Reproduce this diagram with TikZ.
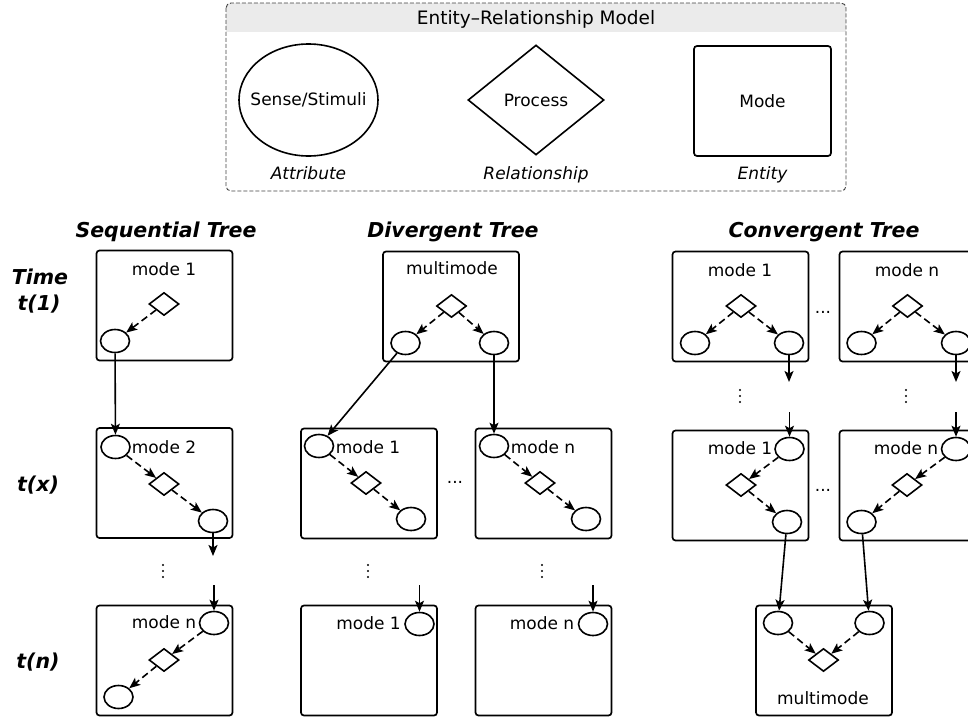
\documentclass[tikz,border=0pt]{standalone}
\usepackage{fontspec}
\setmainfont{DejaVu Sans}[ItalicFont={DejaVu Sans Oblique},BoldFont={DejaVu Sans Bold},BoldItalicFont={DejaVu Sans Bold Oblique}]
\usetikzlibrary{shapes.geometric,arrows.meta}

\begin{document}
\begin{tikzpicture}[x=1pt,y=-1pt,
  every node/.style={font=\fontsize{17}{20}\selectfont},
  modebox/.style={draw, rounded corners=3pt, line width=1.7pt, minimum width=136pt, minimum height=110pt, inner sep=0pt},
  attr/.style={draw, fill=white, ellipse, line width=1.6pt, minimum width=29pt, minimum height=23pt, inner sep=0pt},
  rel/.style={draw, fill=white, diamond, line width=1.6pt, minimum width=30pt, minimum height=23pt, inner sep=0pt},
  lbl/.style={inner sep=0pt},
  capt/.style={inner sep=0pt, anchor=base, font=\fontsize{17}{20}\selectfont\itshape},
  ttl/.style={inner sep=0pt, anchor=base, font=\fontsize{20.5}{24}\selectfont\bfseries\itshape},
  flow/.style={line width=1.6pt, -{Stealth[length=11pt 0,width=9pt 0,inset=2.5pt 0]}},
  dflow/.style={flow, dash pattern=on 7pt off 4pt},
  more/.style={inner sep=0pt, anchor=base}
]
\useasboundingbox (0,0) rectangle (968,717);
\clip (0,0) rectangle (968,717);

% ---------- legend ----------
\begin{scope}
  \clip[rounded corners=5pt] (226,3) rectangle (846,191);
  \fill[black!8] (226,3) rectangle (846,32);
\end{scope}
\draw[black!75, line width=0.9pt, dash pattern=on 4pt off 2pt, rounded corners=5pt] (226,3) rectangle (846,191);
\node[more, font=\fontsize{18.5}{22}\selectfont] (erm) at (536,25) {Entity–Relationship Model};
\node[draw, ellipse, line width=1.6pt, minimum width=139pt, minimum height=112pt, inner xsep=-11pt, inner ysep=0pt] (attrShape) at (308.5,100) {Sense/Stimuli};
\node[draw, diamond, line width=1.6pt, minimum width=136pt, minimum height=110pt, inner sep=0pt] (relShape) at (536,100) {Process};
\node[modebox, minimum width=137pt] (entShape) at (762.5,101) {Mode};
\node[capt] (attrCap) at (308.5,179) {Attribute};
\node[capt] (relCap) at (536,179) {Relationship};
\node[capt] (entCap) at (762.5,179) {Entity};

% ---------- titles and time labels ----------
\node[ttl] (tSeq) at (166,237.5) {Sequential Tree};
\node[ttl] (tDiv) at (453,237.5) {Divergent Tree};
\node[ttl] (tCon) at (824,237.5) {Convergent Tree};
\node[ttl] (time) at (40,284.5) {Time};
\node[ttl] (t1) at (39,310) {t(1)};
\node[ttl] (tx) at (38,491) {t(x)};
\node[ttl] (tn) at (38,668.5) {t(n)};

% ---------- sequential tree ----------
\node[modebox] (s1) at (164.5,305.5) {};
\node[lbl] (s1t) at (164,269) {mode 1};
\node[rel] (s1r) at (164,304) {};
\node[attr] (s1a) at (115,341) {};
\draw[dflow] (s1r) -- (s1a);

\node[modebox] (s2) at (164.5,483) {};
\node[attr] (s2a) at (115.5,447) {};
\node[lbl] (s2t) at (164,447) {mode 2};
\node[rel] (s2r) at (164,484) {};
\node[attr] (s2b) at (213,521) {};
\draw[dflow] (s2a) -- (s2r);
\draw[dflow] (s2r) -- (s2b);
\draw[flow] (s1a) -- (s2a);
\coordinate (s2out) at (213,556);
\draw[flow] (s2b) -- (s2out);

\node[modebox] (s3) at (164.5,660.5) {};
\node[lbl] (s3t) at (164,622) {mode n};
\node[attr] (s3a) at (214,623) {};
\node[rel] (s3r) at (164,660) {};
\node[attr] (s3b) at (118.5,697) {};
\coordinate (s3in) at (214,585);
\draw[flow] (s3in) -- (s3a);
\draw[dflow] (s3a) -- (s3r);
\draw[dflow] (s3r) -- (s3b);

% ---------- divergent tree ----------
\node[modebox] (d1) at (451,306.5) {};
\node[lbl] (d1t) at (452,268) {multimode};
\node[rel] (d1r) at (451.5,306) {};
\node[attr] (d1a) at (405.5,343) {};
\node[attr] (d1b) at (494,343) {};
\draw[dflow] (d1r) -- (d1a);
\draw[dflow] (d1r) -- (d1b);

\node[modebox] (d2a) at (369,483.5) {};
\node[attr] (d2aa) at (319,446) {};
\node[lbl] (d2at) at (368,447) {mode 1};
\node[rel] (d2ar) at (366,483) {};
\node[attr] (d2ab) at (411,519) {};
\draw[dflow] (d2aa) -- (d2ar);
\draw[dflow] (d2ar) -- (d2ab);

\node[modebox] (d2b) at (543.5,483.5) {};
\node[attr] (d2ba) at (494,446) {};
\node[lbl] (d2bt) at (543,447) {mode n};
\node[rel] (d2br) at (540,483) {};
\node[attr] (d2bb) at (586,519) {};
\draw[dflow] (d2ba) -- (d2br);
\draw[dflow] (d2br) -- (d2bb);
\node[more] (dmore) at (455,483.5) {...};

\draw[flow] (d1a) -- (d2aa);
\draw[flow] (d1b) -- (d2ba);

\node[modebox] (d3a) at (369,660.5) {};
\node[lbl] (d3at) at (368.5,623) {mode 1};
\node[attr] (d3aa) at (419.5,624) {};
\node[modebox] (d3b) at (543.5,660.5) {};
\node[lbl] (d3bt) at (542,623) {mode n};
\node[attr] (d3ba) at (593,624) {};
\coordinate (d3ain) at (419.5,585);
\coordinate (d3bin) at (593,585);
\draw[flow] (d3ain) -- (d3aa);
\draw[flow] (d3bin) -- (d3ba);

% ---------- convergent tree ----------
\node[modebox] (c1a) at (740.5,306.5) {};
\node[lbl] (c1at) at (740,270) {mode 1};
\node[rel] (c1ar) at (741,306) {};
\node[attr] (c1aa) at (695,343) {};
\node[attr] (c1ab) at (789,343) {};
\draw[dflow] (c1ar) -- (c1aa);
\draw[dflow] (c1ar) -- (c1ab);
\coordinate (c1aout) at (789,382);
\draw[flow] (c1ab) -- (c1aout);

\node[modebox] (c1b) at (907.5,306.5) {};
\node[lbl] (c1bt) at (907,270) {mode n};
\node[rel] (c1br) at (907.5,306) {};
\node[attr] (c1ba) at (861.5,343) {};
\node[attr] (c1bb) at (956,343) {};
\draw[dflow] (c1br) -- (c1ba);
\draw[dflow] (c1br) -- (c1bb);
\coordinate (c1bout) at (956,382);
\draw[flow] (c1bb) -- (c1bout);
\node[more] (cmore1) at (823,313.5) {...};

\node[modebox] (c2a) at (740.5,485.5) {};
\node[lbl] (c2at) at (740,448) {mode 1};
\node[attr] (c2aa) at (789.5,449) {};
\node[rel] (c2ar) at (741,485) {};
\node[attr] (c2ab) at (787,522) {};
\coordinate (c2ain) at (789.5,412);
\draw[flow] (c2ain) -- (c2aa);
\draw[dflow] (c2aa) -- (c2ar);
\draw[dflow] (c2ar) -- (c2ab);

\node[modebox] (c2b) at (907.5,485.5) {};
\node[lbl] (c2bt) at (906,448) {mode n};
\node[attr] (c2ba) at (956,449) {};
\node[rel] (c2br) at (907,485) {};
\node[attr] (c2bb) at (861.5,522) {};
\coordinate (c2bin) at (956,412);
\draw[flow] (c2bin) -- (c2ba);
\draw[dflow] (c2ba) -- (c2br);
\draw[dflow] (c2br) -- (c2bb);
\node[more] (cmore2) at (823,491.5) {...};

\node[modebox] (cm) at (824,660.5) {};
\node[attr] (cma) at (778,623) {};
\node[attr] (cmb) at (869.5,623) {};
\node[rel] (cmr) at (823.5,660) {};
\node[lbl] (cmt) at (823,698) {multimode};
\draw[dflow] (cma) -- (cmr);
\draw[dflow] (cmb) -- (cmr);
\draw[flow] (c2ab) -- (cma);
\draw[flow] (c2bb) -- (cmb);

% ---------- vertical ellipses between time steps ----------
\foreach \px/\py in {163/571, 368/571, 542/571, 740/396, 906/396}
  \foreach \d in {-6,0,6}
    \fill (\px,\py+\d) circle (1.2pt);
\end{tikzpicture}
\end{document}
